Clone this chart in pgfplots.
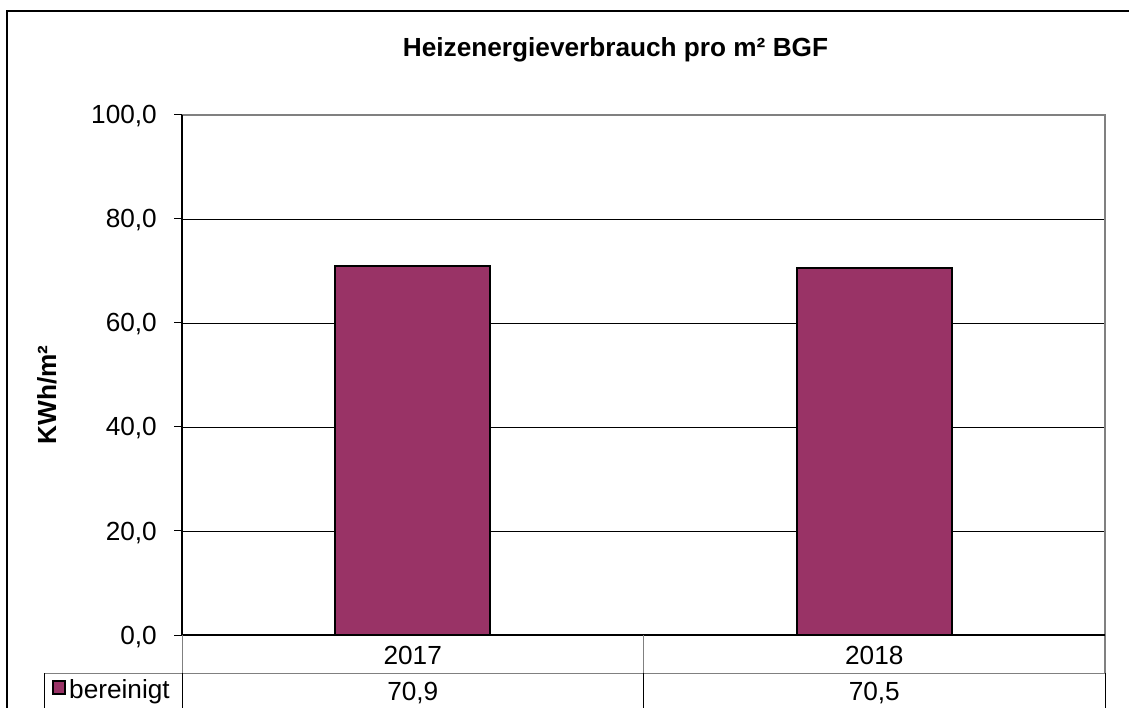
\documentclass[border=0pt]{standalone}
\usepackage{fontspec}
\setmainfont{Liberation Sans}
\usepackage{pgfplots}
\pgfplotsset{compat=1.18}
\usepackage{pgfplotstable}
\definecolor{plum}{RGB}{153,51,102}
\definecolor{framegray}{RGB}{128,128,128}
\pgfplotstableread{
x year v
0 2017 70.9
1 2018 70.5
}\data
\newcommand{\bigf}{\fontsize{26.2}{31}\selectfont}
\begin{document}
\bigf
\begin{tikzpicture}
\useasboundingbox (0pt,0pt) rectangle (1129pt,707pt);
\begin{axis}[
  at={(182pt,72pt)}, anchor=south west,
  scale only axis, width=923pt, height=520pt,
  xmin=-0.5, xmax=1.5, ymin=0, ymax=100,
  xtick=\empty,
  ytick={0,20,40,60,80,100}, ytick pos=left,
  tick align=outside, major tick length=8pt,
  ytick style={black, line width=1pt},
  ymajorgrids, major grid style={black, line width=0.8pt},
  axis line style={draw=none},
  clip=false,
  /pgf/number format/.cd, use comma, fixed, fixed zerofill, precision=1, assume math mode=true,
  /pgfplots/.cd,
  yticklabel style={font=\bigf, anchor=base east, inner sep=0pt, xshift=-17pt, yshift=-9pt},
  title={Heizenergieverbrauch pro m² BGF},
  title style={at={(axis description cs:0.4697,1.1019)}, anchor=base, font=\bfseries\bigf, inner sep=0pt},
  ylabel={KWh/m²},
  ylabel style={at={(axis description cs:-0.1463,0.4615)}, anchor=center, rotate=0, font=\bfseries\bigf, inner sep=0pt},
  legend style={at={(axis description cs:-0.1408,-0.1077)}, anchor=west, draw=none, fill=none, inner sep=0pt, font=\bigf,
    nodes={inner sep=0pt}, /tikz/every even column/.append style={column sep=0pt}},
  legend image code/.code={\draw[fill=plum, draw=black, line width=2pt] (1pt,-3pt) rectangle (13pt,10pt);},
]
\addplot[ybar, bar width=155pt, fill=plum, draw=black, line width=2.2pt] table[x=x, y=v]{\data};
\addlegendentry{\kern3pt bereinigt}
\addplot[draw=none, mark=none, forget plot, nodes near coords, point meta=explicit symbolic,
  nodes near coords style={anchor=base, inner sep=0pt, text=black, font=\bigf}]
  table[x=x, y expr=-5.58, meta=year]{\data};
\addplot[draw=none, mark=none, forget plot, nodes near coords, point meta=explicit,
  nodes near coords style={anchor=base, inner sep=0pt, text=black, font=\bigf}]
  table[x=x, y expr=-12.69, meta=v]{\data};
\end{axis}
% outer frame
\draw[black, line width=2pt] (7pt,-5pt) -- (7pt,696pt) -- (1140pt,696pt);
% plot area frame
\draw[framegray, line width=2pt] (182pt,592pt) -- (1105pt,592pt) -- (1105pt,34pt);
\draw[black, line width=1.5pt] (182pt,592pt) -- (182pt,72pt) -- (1105pt,72pt);
% data table
\draw[framegray, line width=1pt] (44pt,34pt) -- (1105pt,34pt);
\draw[framegray, line width=1pt] (182pt,72pt) -- (182pt,34pt);
\draw[framegray, line width=1pt] (643.5pt,72pt) -- (643.5pt,34pt);
\draw[black, line width=1pt] (44pt,34pt) -- (44pt,-5pt);
\draw[black, line width=1pt] (182pt,34pt) -- (182pt,-5pt);
\draw[black, line width=1pt] (643.5pt,34pt) -- (643.5pt,-5pt);
\draw[black, line width=1pt] (1105pt,34pt) -- (1105pt,-5pt);
\end{tikzpicture}
\end{document}
